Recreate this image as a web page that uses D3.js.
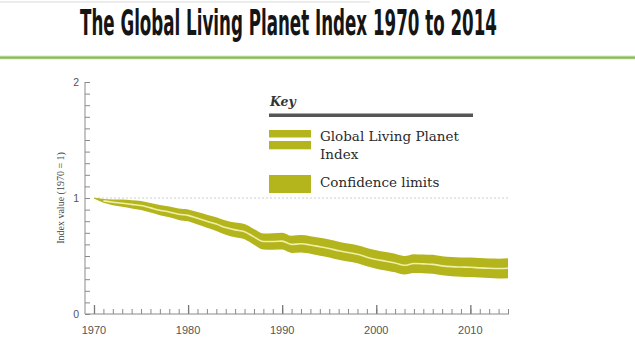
<!DOCTYPE html>
<html><head><meta charset="utf-8">
<script src="https://cdn.jsdelivr.net/npm/d3@7/dist/d3.min.js"></script>
<style>html,body{margin:0;padding:0;background:#fff;}svg{display:block;}</style>
</head><body><svg id="c" width="635" height="357"></svg>
<script>
const years = [1970,1971,1972,1973,1974,1975,1976,1977,1978,1979,1980,1981,1982,1983,1984,1985,1986,1987,1988,1989,1990,1991,1992,1993,1994,1995,1996,1997,1998,1999,2000,2001,2002,2003,2004,2005,2006,2007,2008,2009,2010,2011,2012,2013,2014];
const lpi   = [1.000,0.975,0.963,0.955,0.945,0.935,0.915,0.895,0.880,0.860,0.850,0.825,0.800,0.775,0.745,0.725,0.710,0.665,0.625,0.625,0.628,0.600,0.605,0.595,0.580,0.565,0.545,0.530,0.515,0.490,0.470,0.455,0.440,0.420,0.435,0.432,0.428,0.415,0.408,0.405,0.403,0.398,0.394,0.392,0.395];
const lower = [0.995,0.958,0.938,0.924,0.910,0.896,0.874,0.851,0.834,0.811,0.799,0.771,0.744,0.716,0.684,0.662,0.645,0.598,0.556,0.554,0.555,0.526,0.530,0.519,0.503,0.488,0.467,0.452,0.437,0.411,0.391,0.376,0.360,0.340,0.354,0.351,0.346,0.333,0.325,0.322,0.319,0.314,0.310,0.307,0.309];
const upper = [1.005,0.992,0.988,0.986,0.980,0.974,0.956,0.939,0.926,0.909,0.901,0.879,0.856,0.834,0.806,0.788,0.775,0.732,0.694,0.696,0.701,0.674,0.680,0.671,0.657,0.642,0.623,0.608,0.593,0.569,0.549,0.534,0.520,0.500,0.516,0.513,0.510,0.497,0.491,0.488,0.487,0.482,0.478,0.477,0.481];
const xTickLabels = [1970,1980,1990,2000,2010];
const yTickLabels = [0,1,2];
const titleText = "The Global Living Planet Index 1970 to 2014";
const yLabel = "Index value (1970 = 1)";
const legendTitle = "Key";
const legendItems = ["Global Living Planet", "Index", "Confidence limits"];

const svg = d3.select("#c");
const olive = "#b4b51c";
const axisCol = "#8a8a8a";

// top decorations
svg.append("rect").attr("x",0).attr("y",1).attr("width",370).attr("height",2).attr("fill","#ececec");
svg.append("rect").attr("x",0).attr("y",55.5).attr("width",635).attr("height",4).attr("fill","#d6ebc4");
svg.append("rect").attr("x",0).attr("y",56.5).attr("width",635).attr("height",2.2).attr("fill","#88bb55");

// title: condensed look via vertical stretch so its natural width fits
const title = svg.append("text").attr("x",0).attr("y",0)
  .attr("font-family","'DejaVu Sans Condensed','DejaVu Sans',sans-serif")
  .attr("font-weight","bold").attr("font-size",20).attr("fill","#151515")
  .text(titleText);
const w20 = title.node().getComputedTextLength();
const fs = 20*417/w20;
const sy = 25.5/(fs*0.73);
title.attr("font-size",fs).attr("transform",`translate(80,35) scale(1,${sy})`);

const x = d3.scaleLinear().domain([1970,2014]).range([94,508]);
const y = d3.scaleLinear().domain([0,2]).range([314,82]);

// dotted reference line at 1
svg.append("line").attr("x1",x(1970)+4).attr("x2",x(2014)+2).attr("y1",y(1)).attr("y2",y(1))
  .attr("stroke","#cfcfcf").attr("stroke-width",1).attr("stroke-dasharray","2,2");

// x axis
const gx = svg.append("g").attr("transform",`translate(0,${y(0)})`)
  .call(d3.axisTop(x).tickValues(d3.range(1970,2015)).tickSize(5).tickFormat(""));
gx.select(".domain").remove();
gx.selectAll("line").attr("stroke",axisCol);
const gx2 = svg.append("g").attr("transform",`translate(0,${y(0)})`)
  .call(d3.axisTop(x).tickValues(xTickLabels).tickSize(9).tickFormat(""));
gx2.select(".domain").remove();
gx2.selectAll("line").attr("stroke","#777").attr("stroke-width",1.3);
svg.append("line").attr("x1",85).attr("x2",x(2014)+1).attr("y1",y(0)).attr("y2",y(0)).attr("stroke",axisCol);
svg.selectAll("text.xl").data(xTickLabels).enter().append("text").attr("class","xl")
  .attr("x",d=>x(d)).attr("y",334).attr("text-anchor","middle")
  .attr("font-family","'Liberation Sans Narrow','Liberation Sans',sans-serif").attr("font-size",11).attr("fill","#555")
  .text(d=>d);

// y axis
const gy = svg.append("g").attr("transform","translate(85,0)")
  .call(d3.axisRight(y).tickValues(d3.range(0,21).map(i=>i/10)).tickSize(5).tickFormat(""));
gy.select(".domain").remove();
gy.selectAll("line").attr("stroke",axisCol);
svg.append("line").attr("x1",85).attr("x2",85).attr("y1",y(2)).attr("y2",y(0)).attr("stroke",axisCol);
svg.selectAll("text.yl").data(yTickLabels).enter().append("text").attr("class","yl")
  .attr("x",79).attr("y",d=>y(d)+4).attr("text-anchor","end")
  .attr("font-family","'Liberation Sans',sans-serif").attr("font-size",10.5).attr("fill","#555")
  .text(d=>d);
svg.append("text").attr("transform",`translate(64,${y(1)}) rotate(-90)`)
  .attr("text-anchor","middle").attr("font-family","'Liberation Serif',serif").attr("font-size",10).attr("fill","#444")
  .text(yLabel);

// band
const data = years.map((yr,i)=>({yr, v:lpi[i], lo:lower[i], hi:upper[i]}));
const area = d3.area().x(d=>x(d.yr)).y0(d=>y(d.lo)).y1(d=>y(d.hi)).curve(d3.curveMonotoneX);
svg.append("path").datum(data).attr("d",area).attr("fill",olive);
const line = d3.line().x(d=>x(d.yr)).y(d=>y(d.v)).curve(d3.curveMonotoneX);
svg.append("path").datum(data.slice(1)).attr("d",line).attr("fill","none").attr("stroke","#eef0a8").attr("stroke-width",1.6);

// legend
svg.append("text").attr("x",270).attr("y",106).attr("font-family","'DejaVu Serif',serif").attr("font-style","italic").attr("font-weight","bold")
  .attr("font-size",12.5).attr("fill","#333").text(legendTitle);
svg.append("rect").attr("x",269).attr("y",113.5).attr("width",204).attr("height",3.5).attr("fill","#555");
svg.append("rect").attr("x",269).attr("y",130).attr("width",42).attr("height",7.5).attr("fill",olive);
svg.append("rect").attr("x",269).attr("y",141).attr("width",42).attr("height",8.3).attr("fill",olive);
svg.append("rect").attr("x",269).attr("y",175).attr("width",42).attr("height",18).attr("fill",olive);
const lf = "'DejaVu Serif',serif";
svg.append("text").attr("x",320).attr("y",141).attr("font-family",lf).attr("font-size",13.5).attr("fill","#2a2a2a")
  .text(legendItems[0]);
svg.append("text").attr("x",320).attr("y",159).attr("font-family",lf).attr("font-size",13.5).attr("fill","#2a2a2a").text(legendItems[1]);
svg.append("text").attr("x",320).attr("y",187).attr("font-family",lf).attr("font-size",13.5).attr("fill","#2a2a2a")
  .text(legendItems[2]);
</script></body></html>
